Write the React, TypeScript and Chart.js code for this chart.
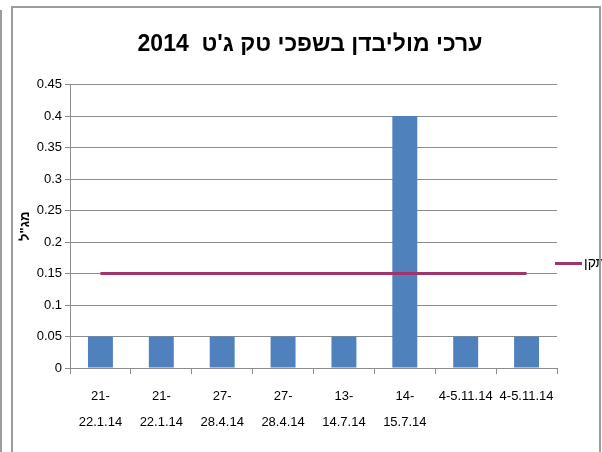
import React, { useEffect, useRef } from "react";
import { Chart, registerables } from "chart.js";

Chart.register(...registerables);

const categories: string[][] = [
  ["21-", "22.1.14"],
  ["21-", "22.1.14"],
  ["27-", "28.4.14"],
  ["27-", "28.4.14"],
  ["13-", "14.7.14"],
  ["14-", "15.7.14"],
  ["4-5.11.14"],
  ["4-5.11.14"],
];
const molybdenum: number[] = [0.05, 0.05, 0.05, 0.05, 0.05, 0.4, 0.05, 0.05];
const standard: number[] = [0.15, 0.15, 0.15, 0.15, 0.15, 0.15, 0.15, 0.15];
const titleText = "ערכי מוליבדן בשפכי טק ג'ט  2014";
const yTitle = 'מג"ל';
const legendLabel = "תקן";
const yTicks: number[] = [0, 0.05, 0.1, 0.15, 0.2, 0.25, 0.3, 0.35, 0.4, 0.45];

const BAR = "#4F81BD";
const LINE = "#A0356C";
const GRID = "#8C8C8C";
const FRAME = "#9C9C9C";
const SANS = "'Liberation Sans', Arial, sans-serif";

const framePlugin = {
  id: "framePlugin",
  afterDraw(chart: any) {
    const ctx = chart.ctx;
    ctx.save();
    // legend
    const ly = 263.5;
    ctx.strokeStyle = LINE;
    ctx.lineWidth = 3;
    ctx.beginPath();
    ctx.moveTo(555, ly);
    ctx.lineTo(582, ly);
    ctx.stroke();
    ctx.fillStyle = "#000";
    ctx.font = "14px " + SANS;
    ctx.textBaseline = "middle";
    ctx.textAlign = "left";
    ctx.fillText(legendLabel, 584, ly);
    // frames
    ctx.strokeStyle = FRAME;
    ctx.lineWidth = 2;
    ctx.beginPath();
    ctx.moveTo(1, 10);
    ctx.lineTo(1, 452);
    ctx.stroke();
    ctx.beginPath();
    ctx.moveTo(12, 452);
    ctx.lineTo(12, 7);
    ctx.lineTo(600, 7);
    ctx.lineTo(600, 452);
    ctx.stroke();
    ctx.restore();
  },
};

export default function App() {
  const ref = useRef<HTMLCanvasElement | null>(null);
  useEffect(() => {
    if (!ref.current) return;
    const chart = new Chart(ref.current, {
      type: "bar",
      data: {
        labels: categories,
        datasets: [
          {
            type: "line",
            label: legendLabel,
            data: standard,
            borderColor: LINE,
            backgroundColor: LINE,
            borderWidth: 3,
            pointRadius: 0,
            order: 1,
          } as any,
          {
            type: "bar",
            label: "מוליבדן",
            data: molybdenum,
            backgroundColor: BAR,
            borderWidth: 0,
            barPercentage: 0.41,
            categoryPercentage: 1,
            order: 2,
          },
        ],
      },
      options: {
        responsive: false,
        animation: false,
        layout: { padding: { left: 18, right: 0, top: 0, bottom: 0 } },
        plugins: {
          legend: { display: false },
          tooltip: { enabled: false },
          title: {
            display: true,
            text: titleText,
            color: "#000",
            font: { family: SANS, size: 23, weight: "bold", lineHeight: 1.2 },
            padding: { top: 31, bottom: 26 },
          },
        },
        scales: {
          x: {
            grid: {
              drawOnChartArea: false,
              drawTicks: true,
              tickLength: 6,
              color: GRID,
              offset: true,
            },
            border: { display: true, color: GRID },
            ticks: {
              color: "#000",
              font: { family: SANS, size: 13, lineHeight: 1.95 },
              maxRotation: 0,
              autoSkip: false,
              padding: 10,
            },
            afterFit(s: any) {
              s.height = 84;
            },
          },
          y: {
            min: 0,
            max: 0.45,
            afterBuildTicks(s: any) {
              s.ticks = yTicks.map((v) => ({ value: v }));
            },
            ticks: {
              color: "#000",
              font: { family: SANS, size: 13 },
              padding: 3,
              callback: (v: any) => String(+Number(v).toFixed(2)),
            },
            grid: { color: GRID, tickLength: 5, drawTicks: true },
            border: { display: true, color: GRID },
            title: {
              display: true,
              text: yTitle,
              color: "#000",
              font: { family: SANS, size: 13, weight: "bold" },
              padding: { top: 0, bottom: 0 },
            },
            afterFit(s: any) {
              s.width = 52;
            },
          },
          y2: {
            position: "right",
            display: true,
            grid: { display: false },
            border: { display: false },
            ticks: { display: false },
            afterFit(s: any) {
              s.width = 45;
            },
          },
        },
      },
      plugins: [framePlugin],
    } as any);
    return () => chart.destroy();
  }, []);
  return (
    <div style={{ position: "absolute", left: 0, top: 0, width: 602, height: 452, background: "#fff" }}>
      <canvas ref={ref} width={602} height={452} style={{ display: "block" }} />
    </div>
  );
}
